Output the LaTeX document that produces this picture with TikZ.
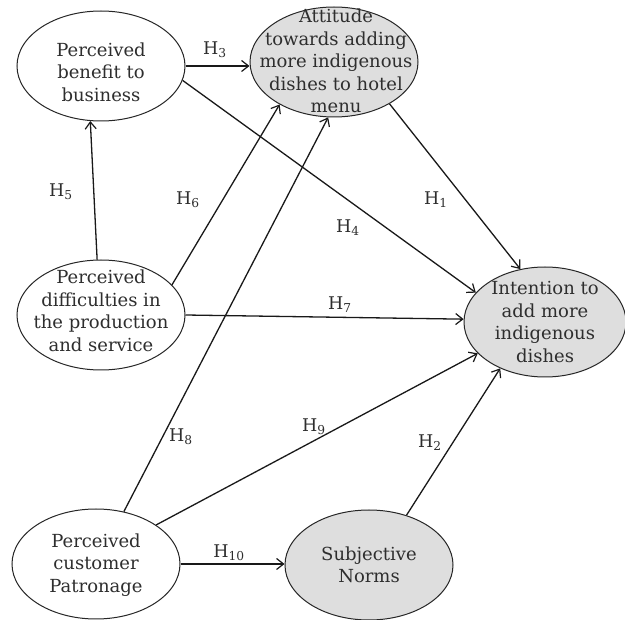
\documentclass[tikz,border=0pt]{standalone}
\usepackage{fontspec}
\setmainfont{DejaVu Serif}
\usetikzlibrary{shapes.geometric,arrows.meta}
\definecolor{ovalgray}{RGB}{222,222,222}
\tikzset{
  oval/.style={ellipse,draw=black!85,line width=1pt,inner sep=0pt,minimum width=168pt,minimum height=110pt},
  ovalw/.style={oval,fill=white},
  ovalg/.style={oval,fill=ovalgray},
  txt/.style={align=center,font=\fontsize{18}{22.5}\selectfont,text=black!82,inner sep=0pt},
  hyp/.style={font=\fontsize{17.5}{19}\selectfont,text=black!82,inner sep=1pt},
  arr/.style={line width=1.3pt,black!90,-{Straight Barb[length=7pt,width=11pt,line width=1.2pt]}}
}
\newcommand{\Hy}[1]{H\textsubscript{#1}}
\begin{document}
\begin{tikzpicture}[x=1pt,y=-1pt]
\useasboundingbox (0,0) rectangle (625,620);
\fill[white] (0,0) rectangle (625,620);
% ellipses
\node[ovalw] (ben) at (101,66) {};
\node[ovalg] (att) at (334,62) {};
\node[ovalw] (dif) at (101,315) {};
\node[ovalg,minimum width=162pt] (int) at (545,322) {};
\node[ovalw] (pat) at (96,564) {};
\node[ovalg] (sub) at (369,565) {};
% texts
\node[txt] (bent) at (101,72) {Perceived\\benefit to\\business};
\node[txt] (attt) at (336,61) {Attitude\\towards adding\\more indigenous\\dishes to hotel\\menu};
\node[txt] (dift) at (101,311) {Perceived\\difficulties in\\the production\\and service};
\node[txt] (intt) at (545,322) {Intention to\\add more\\indigenous\\dishes};
\node[txt] (patt) at (96,565) {Perceived\\customer\\Patronage};
\node[txt] (subt) at (369,565) {Subjective\\Norms};
% connectors
\draw[arr,line width=1.6pt] (ben.east) -- (ben.east -| att.west);
\draw[arr] (ben.-10) -- (int.157);
\draw[arr] (dif.94) -- (ben.-101);
\draw[arr] (dif.23) -- (att.218);
\draw[arr] (dif.east) -- (int.178);
\draw[arr] (att.-37) -- (int.115);
\draw[arr] (pat.62) -- (att.264);
\draw[arr] (pat.33) -- (int.205);
\draw[arr] (sub.53) -- (int.226);
\draw[arr] (pat.east) -- (pat.east -| sub.west);
% hypothesis labels
\node[hyp] (h3) at (215,50) {\Hy{3}};
\node[hyp] (h5) at (61,192) {\Hy{5}};
\node[hyp] (h6) at (188,200) {\Hy{6}};
\node[hyp] (h4) at (348,228) {\Hy{4}};
\node[hyp] (h1) at (436,200) {\Hy{1}};
\node[hyp] (h7) at (340,305) {\Hy{7}};
\node[hyp] (h8) at (181,437) {\Hy{8}};
\node[hyp] (h9) at (314,427) {\Hy{9}};
\node[hyp] (h2) at (430,443) {\Hy{2}};
\node[hyp] (h10) at (229,553) {\Hy{10}};
\end{tikzpicture}
\end{document}
